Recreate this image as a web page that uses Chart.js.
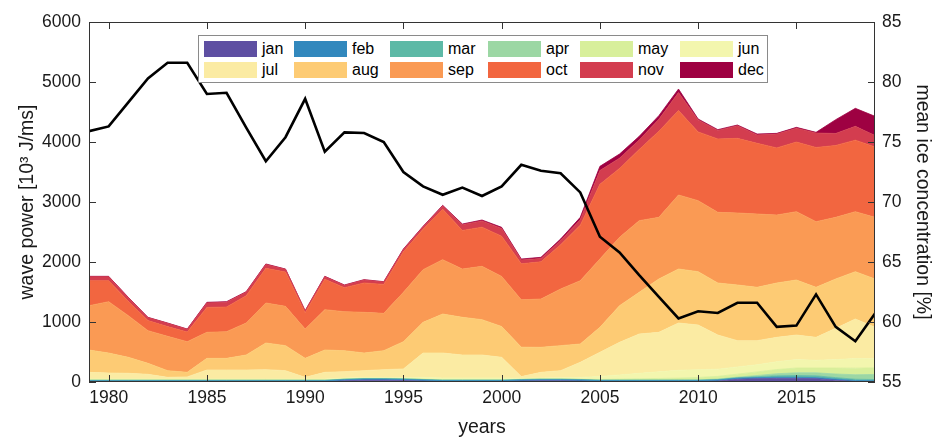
<!DOCTYPE html>
<html>
<head>
<meta charset="utf-8">
<script src="https://cdn.jsdelivr.net/npm/chart.js@4.4.0/dist/chart.umd.min.js"></script>
<style>
    body { margin: 0; background: #fff; }
    #contenedor { position: relative; width: 934px; height: 437px; }
    #leyenda {
        position: absolute; left: 198px; top: 35px; width: 570px; height: 48px;
        box-sizing: border-box; border: 1px solid #8a8a8a; background: #fff;
        font-family: 'Liberation Sans', Arial, sans-serif; font-size: 16px; color: #000;
    }
    .fila { position: absolute; left: 5px; display: flex; height: 16px; }
    .item { display: flex; align-items: center; height: 16px; line-height: 16px; }
    .muestra { width: 53px; height: 16px; margin-right: 5px; }
</style>
</head>
<body>
<div id="contenedor">
    <canvas id="graficoOlas"></canvas>
    <div id="leyenda"></div>
</div>
<script>
// 1. DATOS
const anios = [1979, 1980, 1981, 1982, 1983, 1984, 1985, 1986, 1987, 1988,
    1989, 1990, 1991, 1992, 1993, 1994, 1995, 1996, 1997, 1998,
    1999, 2000, 2001, 2002, 2003, 2004, 2005, 2006, 2007, 2008,
    2009, 2010, 2011, 2012, 2013, 2014, 2015, 2016, 2017, 2018, 2019];

const meses = ['jan', 'feb', 'mar', 'apr', 'may', 'jun', 'jul', 'aug', 'sep', 'oct', 'nov', 'dec'];

const jan = [2, 2, 2, 2, 2, 2, 2, 2, 2, 2, 2, 2, 2, 20, 30, 30, 25, 15, 5, 5,
    5, 5, 15, 20, 20, 15, 5, 5, 5, 5, 5, 5, 15, 45, 55, 60, 60, 55, 30, 8, 3];
const feb = [18, 18, 18, 18, 18, 18, 18, 18, 18, 18, 18, 18, 18, 18, 18, 18, 18, 18, 18, 18,
    18, 18, 18, 18, 18, 18, 18, 18, 18, 18, 18, 18, 18, 18, 18, 18, 18, 18, 18, 18, 18];
const mar = [8, 8, 8, 8, 8, 8, 8, 8, 8, 8, 8, 8, 8, 8, 8, 8, 8, 8, 8, 8,
    8, 8, 8, 8, 8, 8, 8, 8, 8, 8, 8, 8, 8, 8, 15, 25, 30, 30, 25, 20, 20];
const apr = [2, 2, 2, 2, 2, 2, 2, 2, 2, 2, 2, 2, 2, 2, 2, 2, 2, 2, 2, 2,
    2, 2, 2, 2, 2, 2, 2, 2, 3, 3, 4, 5, 8, 10, 20, 35, 45, 50, 60, 75, 85];
const may = [4, 4, 4, 4, 4, 4, 4, 4, 4, 4, 4, 4, 4, 4, 4, 4, 4, 4, 4, 4,
    4, 4, 4, 4, 4, 4, 10, 15, 20, 25, 30, 40, 45, 50, 60, 70, 80, 80, 100, 110, 110];
const jun = [15, 15, 15, 15, 15, 15, 15, 15, 15, 15, 15, 15, 15, 15, 15, 15, 15, 30, 30, 30,
    30, 30, 15, 15, 20, 30, 50, 70, 90, 110, 130, 130, 120, 120, 120, 130, 140, 130, 140, 160, 150];
const jul = [112, 101, 96, 79, 29, 36, 151, 151, 151, 157, 140, 29, 112, 105, 112, 129, 145, 406, 416, 383,
    383, 344, 28, 94, 117, 251, 401, 543, 656, 659, 788, 744, 569, 438, 401, 406, 410, 381, 521, 659, 525];
const aug = [372, 333, 266, 183, 111, 76, 194, 194, 250, 444, 417, 316, 372, 350, 294, 316, 455, 511, 650, 628,
    589, 514, 490, 417, 417, 305, 417, 611, 694, 889, 900, 889, 867, 928, 889, 906, 917, 834, 823, 789, 806];
const sep = [739, 856, 695, 545, 572, 511, 434, 445, 533, 667, 655, 489, 673, 650, 678, 622, 822, 878, 906, 805,
    889, 835, 790, 805, 944, 1056, 1139, 1139, 1195, 1027, 1234, 1183, 1178, 1200, 1222, 1133, 1139, 1094, 1027, 1000, 1027];
const oct = [417, 350, 240, 167, 162, 161, 415, 410, 455, 577, 572, 273, 505, 400, 490, 483, 675, 674, 840, 643,
    652, 670, 600, 620, 738, 925, 1244, 1149, 1185, 1435, 1406, 1146, 1223, 1244, 1178, 1119, 1160, 1237, 1198, 1192, 1174];
const nov = [65, 65, 60, 50, 55, 45, 75, 80, 60, 65, 45, 30, 45, 40, 50, 40, 40, 40, 55, 95,
    105, 130, 65, 55, 70, 90, 230, 170, 160, 200, 300, 200, 140, 210, 140, 230, 230, 240, 200, 230, 190];
const dec = [7, 7, 5, 5, 5, 5, 10, 10, 8, 8, 5, 3, 5, 5, 5, 5, 8, 8, 10, 12,
    15, 18, 15, 20, 25, 40, 70, 70, 60, 60, 60, 15, 15, 12, 15, 12, 15, 12, 230, 300, 320];

// concentración media de hielo [%] (eje derecho)
const hielo = [75.9, 76.3, 78.3, 80.3, 81.6, 81.6, 79.0, 79.1, 76.2, 73.4,
    75.4, 78.6, 74.2, 75.8, 75.75, 75.0, 72.5, 71.3, 70.6, 71.2,
    70.5, 71.3, 73.1, 72.6, 72.4, 70.8, 67.1, 65.8, 63.9, 62.1,
    60.3, 60.9, 60.75, 61.6, 61.6, 59.6, 59.7, 62.3, 59.6, 58.4, 60.7];

const ticksAnios = [1980, 1985, 1990, 1995, 2000, 2005, 2010, 2015];

const colores = ['#5E4FA2', '#3288BD', '#5DB9A6', '#9CD7A4', '#D8EF9B', '#F3F6AE',
    '#FBEBA3', '#FDCB74', '#FA9A54', '#F26640', '#D33D4F', '#9E0142'];

const FUENTE = "'Liberation Sans', Arial, sans-serif";

document.addEventListener('DOMContentLoaded', () => {

    // 2. SERIES APILADAS POR MES
    const porMes = [jan, feb, mar, apr, may, jun, jul, aug, sep, oct, nov, dec];
    const conjuntos = meses.map((mes, k) => ({
        label: mes,
        data: anios.map((a, i) => ({ x: a, y: porMes[k][i] })),
        backgroundColor: colores[k],
        borderColor: colores[k],
        borderWidth: 0.8,
        pointRadius: 0,
        tension: 0,
        fill: k === 0 ? 'origin' : '-1',
        yAxisID: 'y'
    }));

    conjuntos.push({
        label: 'ice',
        data: anios.map((a, i) => ({ x: a, y: hielo[i] })),
        borderColor: '#000',
        borderWidth: 2.6,
        pointRadius: 0,
        tension: 0,
        fill: false,
        yAxisID: 'y1',
        order: -1
    });

    // 3. MARCO Y MARCAS HACIA DENTRO (estilo MATLAB)
    const marcoEjes = {
        id: 'marcoEjes',
        afterDatasetsDraw(chart) {
            const { ctx, chartArea: a, scales } = chart;
            const largo = 7;
            ctx.save();
            ctx.strokeStyle = '#333';
            ctx.lineWidth = 1;
            ctx.beginPath();
            scales.x.ticks.forEach(t => {
                const px = Math.round(scales.x.getPixelForValue(t.value)) + 0.5;
                ctx.moveTo(px, a.bottom); ctx.lineTo(px, a.bottom - largo);
                ctx.moveTo(px, a.top); ctx.lineTo(px, a.top + largo);
            });
            scales.y.ticks.forEach(t => {
                const py = Math.round(scales.y.getPixelForValue(t.value)) + 0.5;
                ctx.moveTo(a.left, py); ctx.lineTo(a.left + largo, py);
            });
            scales.y1.ticks.forEach(t => {
                const py = Math.round(scales.y1.getPixelForValue(t.value)) + 0.5;
                ctx.moveTo(a.right, py); ctx.lineTo(a.right - largo, py);
            });
            ctx.stroke();
            ctx.strokeRect(Math.round(a.left) + 0.5, Math.round(a.top) + 0.5,
                Math.round(a.right - a.left) - 1, Math.round(a.bottom - a.top) - 1);
            ctx.restore();
        }
    };

    const fuenteTicks = { family: FUENTE, size: 17.5 };
    const fuenteTitulo = { family: FUENTE, size: 19.5 };

    const ctx = document.getElementById('graficoOlas').getContext('2d');
    new Chart(ctx, {
        type: 'line',
        data: { datasets: conjuntos },
        options: {
            responsive: true,
            maintainAspectRatio: false,
            animation: false,
            layout: { padding: { top: 22, left: 0, right: 0, bottom: 0 } },
            plugins: { legend: { display: false }, tooltip: { enabled: false } },
            scales: {
                x: {
                    type: 'linear',
                    min: 1979,
                    max: 2019,
                    afterBuildTicks: (s) => { s.ticks = ticksAnios.map(v => ({ value: v })); },
                    afterFit: (s) => { s.height = 55; },
                    grid: { display: false, drawTicks: false },
                    border: { display: false },
                    ticks: { autoSkip: false, maxRotation: 0, padding: 6, color: '#1a1a1a', font: fuenteTicks,
                        callback: (v) => String(v) },
                    title: { display: true, text: 'years', color: '#1a1a1a',
                        font: { ...fuenteTitulo, lineHeight: 0.92 }, padding: { top: 0, bottom: 0 } }
                },
                y: {
                    position: 'left',
                    stacked: true,
                    min: 0,
                    max: 6000,
                    afterFit: (s) => { s.width = 89; },
                    grid: { display: false, drawTicks: false },
                    border: { display: false },
                    ticks: { stepSize: 1000, padding: 8, color: '#1a1a1a', font: fuenteTicks,
                        callback: (v) => String(v) },
                    title: { display: true, text: 'wave power [10³ J/ms]', color: '#1a1a1a',
                        font: fuenteTitulo, padding: { top: 16, bottom: 0 } }
                },
                y1: {
                    position: 'right',
                    min: 55,
                    max: 85,
                    afterFit: (s) => { s.width = 59; },
                    grid: { display: false, drawTicks: false },
                    border: { display: false },
                    ticks: { stepSize: 5, padding: 7, color: '#1a1a1a', font: fuenteTicks,
                        callback: (v) => String(v) },
                    title: { display: true, text: 'mean ice concentration [%]', color: '#1a1a1a',
                        font: fuenteTitulo, padding: { top: 0, bottom: 0 } }
                }
            }
        },
        plugins: [marcoEjes]
    });

    // 4. LEYENDA (dos filas de seis, dentro del área)
    const anchos = [90, 96, 98, 92, 100, 88];
    const leyenda = document.getElementById('leyenda');
    [0, 1].forEach(f => {
        const fila = document.createElement('div');
        fila.className = 'fila';
        fila.style.top = (f === 0 ? 5 : 26) + 'px';
        for (let c = 0; c < 6; c++) {
            const k = f * 6 + c;
            const item = document.createElement('div');
            item.className = 'item';
            item.style.width = anchos[c] + 'px';
            item.innerHTML = '<span class="muestra" style="background:' + colores[k] + '"></span><span>' + meses[k] + '</span>';
            fila.appendChild(item);
        }
        leyenda.appendChild(fila);
    });

});
</script>
</body>
</html>
